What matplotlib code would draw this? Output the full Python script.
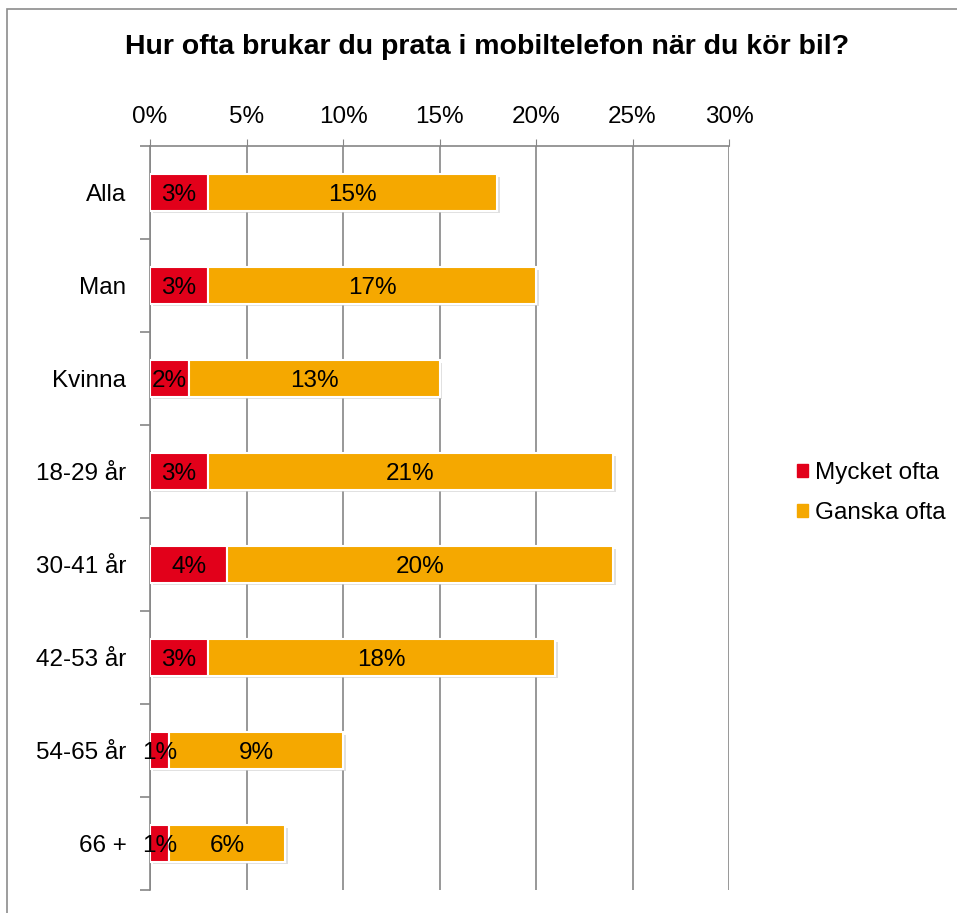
import matplotlib.pyplot as plt
import matplotlib.patheffects as pe
from matplotlib.patches import Rectangle, Patch

plt.rcParams['font.family'] = ['Liberation Sans', 'DejaVu Sans']

# data
groups = ['Alla', 'Man', 'Kvinna', '18-29 år', '30-41 år', '42-53 år', '54-65 år', '66 +']
mycket_ofta = [3, 3, 2, 3, 4, 3, 1, 1]
ganska_ofta = [15, 17, 13, 21, 20, 18, 9, 6]
x_ticks = [0, 5, 10, 15, 20, 25, 30]

RED = '#e2001a'
ORANGE = '#f5a800'
GRID = '#868686'
FS = 17.5

fig = plt.figure(figsize=(9.57, 9.13), dpi=100)
fig.patches.append(Rectangle((7 / 957, -0.2), 1.2, 1.2 - 9 / 913,
                             transform=fig.transFigure, fill=False,
                             edgecolor='#8c8c8c', linewidth=1.2))
ax = fig.add_axes([150 / 957, 1 - 890 / 913, (729 - 150) / 957, (890 - 146) / 913])

y = list(range(len(groups)))
shadow = [pe.SimplePatchShadow(offset=(2, -2), shadow_rgbFace='#cccccc', alpha=0.6), pe.Normal()]
ax.barh(y, mycket_ofta, height=0.39, color=RED, edgecolor='white', linewidth=1.5,
        zorder=3, path_effects=shadow)
ax.barh(y, ganska_ofta, left=mycket_ofta, height=0.39, color=ORANGE, edgecolor='white',
        linewidth=1.5, zorder=3, path_effects=shadow)

for i in y:
    ax.text(mycket_ofta[i] / 2, i, f'{mycket_ofta[i]}%', ha='center', va='center_baseline',
            fontsize=FS, zorder=5)
    ax.text(mycket_ofta[i] + ganska_ofta[i] / 2, i, f'{ganska_ofta[i]}%', ha='center',
            va='center_baseline', fontsize=FS, zorder=5)

ax.set_xlim(0, 30)
ax.set_ylim(len(groups) - 0.5, -0.5)
ax.xaxis.tick_top()
ax.set_xticks(x_ticks)
ax.set_xticklabels([f'{t}%' for t in x_ticks], fontsize=FS)
ax.tick_params(axis='x', length=5, color=GRID, pad=8)
ax.set_yticks([i - 0.5 for i in range(len(groups) + 1)], minor=False)
ax.set_yticklabels([])
ax.set_yticks(y, minor=True)
ax.set_yticklabels(groups, minor=True, fontsize=FS)
ax.tick_params(axis='y', which='major', length=7, color=GRID, width=1.2)
ax.tick_params(axis='y', which='minor', length=0, pad=17)

for s in ['right', 'bottom']:
    ax.spines[s].set_visible(False)
for s in ['top', 'left']:
    ax.spines[s].set_color(GRID)
    ax.spines[s].set_linewidth(1.2)
ax.grid(axis='x', color=GRID, linewidth=1.2, zorder=0)
ax.set_axisbelow(True)

fig.text(487 / 957, 1 - 47 / 913, 'Hur ofta brukar du prata i mobiltelefon när du kör bil?',
         ha='center', va='center', fontsize=20.5, fontweight='bold')

handles = [Patch(color=RED, label='Mycket ofta'), Patch(color=ORANGE, label='Ganska ofta')]
fig.legend(handles=handles, loc='center left', bbox_to_anchor=(775 / 957, 1 - 493 / 913),
           frameon=False, fontsize=FS, handlelength=0.45, handleheight=0.45,
           handletextpad=0.3, labelspacing=0.75)

fig.savefig('out.png', dpi=100)
